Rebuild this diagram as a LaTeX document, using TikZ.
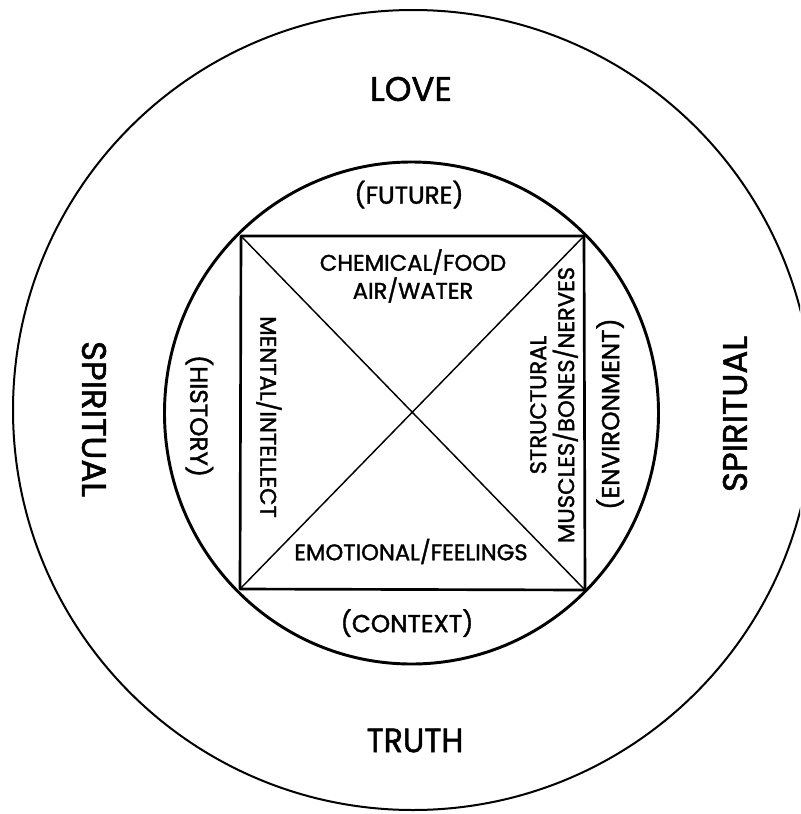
\documentclass[tikz,border=0pt]{standalone}
\usepackage{fontspec}
\setmainfont{Poppins}[FakeBold=1.5]
\begin{document}
\begin{tikzpicture}[x=0.75pt,y=-0.75pt,
  outerring/.style={line width=1.5pt},
  innerring/.style={line width=2.2pt},
  sqline/.style={line width=2pt, line join=round},
  diagline/.style={line width=1.1pt},
  bigtext/.style={font=\fontsize{25.5}{28}\selectfont, inner sep=0pt},
  medtext/.style={font=\fontsize{17}{21}\selectfont, inner sep=0pt, align=center},
  brtext/.style={font=\fontsize{18.5}{22}\selectfont, inner sep=0pt},
]
\useasboundingbox (0,0) rectangle (800,814);
\fill[white] (0,0) rectangle (800,814);
\clip (0,0) rectangle (800,814);

\draw[outerring] (413,410) circle [radius=400];
\draw[innerring] (411.5,413) ellipse [x radius=247, y radius=251];

\coordinate (tl) at (241,236);
\coordinate (tr) at (584,236);
\coordinate (br) at (585,590);
\coordinate (bl) at (240,589);
\draw[sqline] (tl) -- (tr) -- (br) -- (bl) -- cycle;
\draw[diagline] (tl) -- (br);
\draw[diagline] (tr) -- (bl);

\node[bigtext] (love) at (411,89) {LOVE};
\node[bigtext, xscale=0.93] (truth) at (415,740.5) {TRUTH};
\node[bigtext, rotate=-90] (spirl) at (94,419) {SPIRITUAL};
\node[bigtext, rotate=90] (spirr) at (735,414) {SPIRITUAL};

\node[brtext] (future) at (409,194.5) {(FUTURE)};
\node[brtext] (context) at (407,623) {(CONTEXT)};
\node[brtext, rotate=-90] (history) at (199.5,416) {(HISTORY)};
\node[brtext, rotate=90] (environment) at (610,414) {(ENVIRONMENT)};

\node[medtext] (chemical) at (413,276) {CHEMICAL/FOOD\\AIR/WATER};
\node[medtext] (emotional) at (411,551.5) {EMOTIONAL/FEELINGS};
\node[medtext, rotate=-90] (mental) at (269,417) {MENTAL/INTELLECT};
\node[medtext, rotate=90] (structural) at (554,405) {STRUCTURAL\\MUSCLES/BONES/NERVES};
\end{tikzpicture}
\end{document}
